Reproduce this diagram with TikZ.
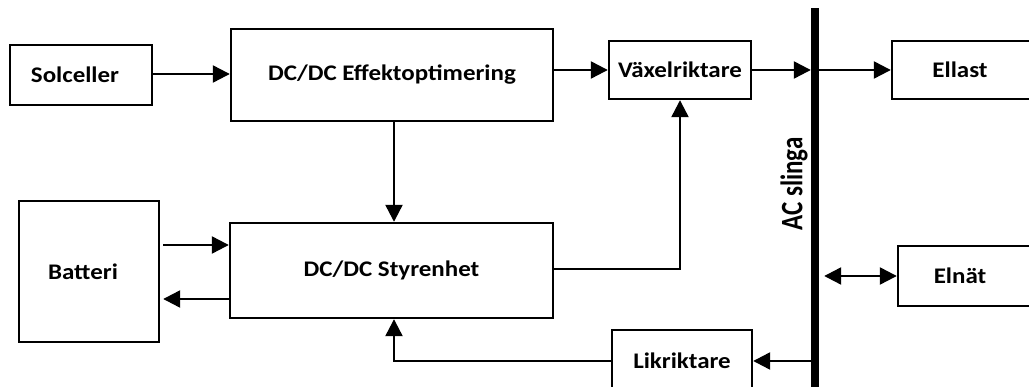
\documentclass[tikz,border=0pt]{standalone}
\usepackage{fontspec}
\setmainfont[FakeStretch=1.12]{Carlito}
\newfontfamily\labelfont{Carlito}
\usetikzlibrary{arrows.meta}
\tikzset{
  blk/.style={draw, line width=2.4pt, font=\bfseries\fontsize{22.3pt}{26pt}\selectfont, inner sep=0pt, align=center},
  tip/.tip={Triangle[length=17pt,width=17pt]},
  arr/.style={line width=2.3pt, -tip},
  darr/.style={line width=2.3pt, tip-tip}
}
\begin{document}
\begin{tikzpicture}[x=1pt,y=-1pt]
\path[use as bounding box] (0,0) rectangle (1029,387);
\clip (0,0) rectangle (1029,387);
\fill[white] (0,0) rectangle (1029,387);

\node[blk, minimum width=142pt, minimum height=60pt] (sol) at (81,75) {Solceller\hspace*{12pt}};
\node[blk, minimum width=322pt, minimum height=92pt] (eff) at (392,75) {DC/DC Effektoptimering};
\node[blk, minimum width=142pt, minimum height=58pt] (vax) at (680,70) {Växelriktare};
\node[blk, minimum width=148pt, minimum height=58pt] (ellast) at (966,70) {Ellast\hspace*{12pt}};
\node[blk, minimum width=140pt, minimum height=141pt] (bat) at (89,271.5) {Batteri\hspace*{12pt}};
\node[blk, minimum width=323pt, minimum height=95pt] (sty) at (391.5,270.5) {DC/DC Styrenhet};
\node[blk, minimum width=140pt, minimum height=62pt] (lik) at (682,361) {Likriktare};
\node[blk, minimum width=142pt, minimum height=60pt] (eln) at (969,276) {Elnät\hspace*{18pt}};
\node[fill=black, inner sep=0pt, minimum width=8pt, minimum height=400pt] (bar) at (815,208) {};
\node[inner sep=0pt] (acl) at (794,184) {\rotatebox{90}{\scalebox{1}[1.25]{\labelfont\bfseries\fontsize{25pt}{30pt}\selectfont AC slinga}}};

\draw[arr] ([yshift=1pt]sol.east) -- ([yshift=1pt]sol.east -| eff.west);
\draw[arr] (eff.east |- vax.west) -- (vax.west);
\draw[arr] (vax.east) -- (vax.east -| bar.west);
\draw[arr] (bar.east |- ellast.west) -- (ellast.west);
\draw[arr] ([xshift=2pt]eff.south) -- ([xshift=2pt]eff.south |- sty.north);
\draw[arr, shorten <=3pt] ([yshift=26.5pt]bat.east) -- ([yshift=26.5pt]bat.east -| sty.west);
\draw[arr, shorten >=3pt] ([yshift=-27.5pt]bat.east -| sty.west) -- ([yshift=-27.5pt]bat.east);
\draw[arr] ([yshift=1.5pt]sty.east) -| (vax.south);
\draw[arr] (bar.west |- lik.east) -- (lik.east);
\draw[arr] (lik.west) -| ([xshift=2.5pt]sty.south);
\draw[darr, shorten <=5pt] (bar.east |- eln.west) -- (eln.west);
\end{tikzpicture}
\end{document}
